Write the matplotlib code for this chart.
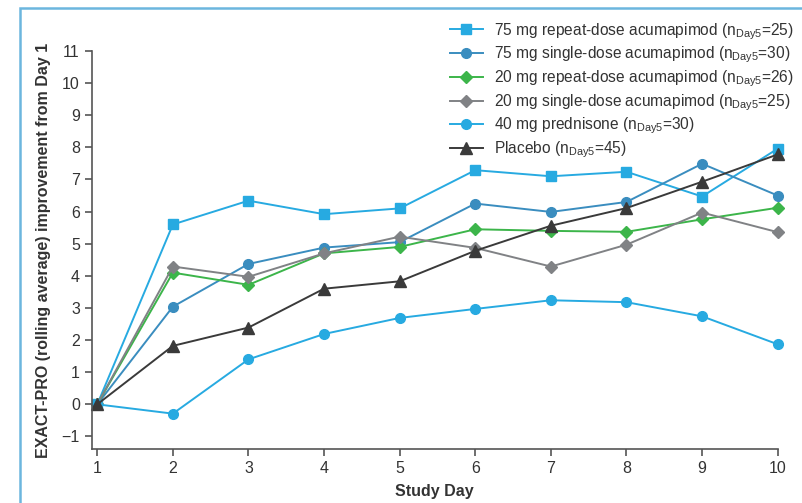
import matplotlib
matplotlib.use('Agg')
import matplotlib.pyplot as plt
from matplotlib.patches import Rectangle

plt.rcParams['font.family'] = ['Liberation Sans', 'DejaVu Sans']
plt.rcParams['mathtext.fontset'] = 'custom'
plt.rcParams['mathtext.rm'] = 'Liberation Sans'

days = [1, 2, 3, 4, 5, 6, 7, 8, 9, 10]

repeat_75 = [0, 5.60, 6.34, 5.92, 6.10, 7.29, 7.10, 7.24, 6.47, 7.96]
single_75 = [0, 3.04, 4.37, 4.88, 5.05, 6.25, 5.99, 6.30, 7.49, 6.50]
repeat_20 = [0, 4.10, 3.72, 4.70, 4.90, 5.45, 5.40, 5.37, 5.76, 6.12]
single_20 = [0, 4.29, 3.97, 4.70, 5.22, 4.87, 4.29, 4.97, 5.97, 5.36]
prednisone = [0, -0.29, 1.40, 2.19, 2.69, 2.97, 3.24, 3.18, 2.74, 1.87]
placebo = [0, 1.82, 2.39, 3.60, 3.83, 4.78, 5.56, 6.11, 6.93, 7.78]

labels = [
    r'75 mg repeat-dose acumapimod (n$_{\mathrm{Day5}}$=25)',
    r'75 mg single-dose acumapimod (n$_{\mathrm{Day5}}$=30)',
    r'20 mg repeat-dose acumapimod (n$_{\mathrm{Day5}}$=26)',
    r'20 mg single-dose acumapimod (n$_{\mathrm{Day5}}$=25)',
    r'40 mg prednisone (n$_{\mathrm{Day5}}$=30)',
    r'Placebo (n$_{\mathrm{Day5}}$=45)',
]

series = [repeat_75, single_75, repeat_20, single_20, prednisone, placebo]
colors = ['#27aae1', '#3a8dbf', '#3cb54a', '#808285', '#27aae1', '#3a3a3a']
markers = ['s', 'o', 'D', 'D', 'o', '^']
sizes = [7, 7, 6, 6, 7, 8]

fig = plt.figure(figsize=(8.02, 5.03), dpi=100)
ax = fig.add_axes([0.1143, 0.1074, 0.9697 - 0.1143, 0.8986 - 0.1074])

for vals, lab, c, m, s in zip(series, labels, colors, markers, sizes):
    ax.plot(days, vals, color=c, marker=m, markersize=s, linewidth=1.4,
            label=lab, clip_on=False)

ax.set_xlim(0.926, 10)
ax.set_ylim(-1.39, 11)
ax.set_xticks(days)
ax.set_yticks(range(-1, 12))
ax.set_yticklabels(['\u22121'] + [str(v) for v in range(0, 12)])
ax.spines['top'].set_visible(False)
ax.spines['right'].set_visible(False)
for sp in ['left', 'bottom']:
    ax.spines[sp].set_color('#555555')
    ax.spines[sp].set_linewidth(1.2)
ax.spines['left'].set_bounds(-1.39, 11)
ax.tick_params(colors='#555555', labelcolor='#333333', labelsize=11.5, length=5, width=1.2)

ax.set_xlabel('Study Day', fontsize=11.5, fontweight='bold', color='#333333', labelpad=6)
ax.set_ylabel('EXACT-PRO (rolling average) improvement from Day 1', fontsize=11.5,
              fontweight='bold', color='#333333', labelpad=8)

leg = fig.legend(loc='upper left', bbox_to_anchor=(450 / 802, 1 - 21 / 503),
                 frameon=False, fontsize=11.2, handlelength=2.1, handletextpad=0.7,
                 labelspacing=0.2, borderaxespad=0, borderpad=0)
for t in leg.get_texts():
    t.set_color('#333333')

fig.patches.append(Rectangle((20 / 802, -0.1), 1.2, 1 - 8 / 503 + 0.1,
                             transform=fig.transFigure, fill=False,
                             edgecolor='#6cb6de', linewidth=1.8))

fig.savefig('out.png', dpi=100)
